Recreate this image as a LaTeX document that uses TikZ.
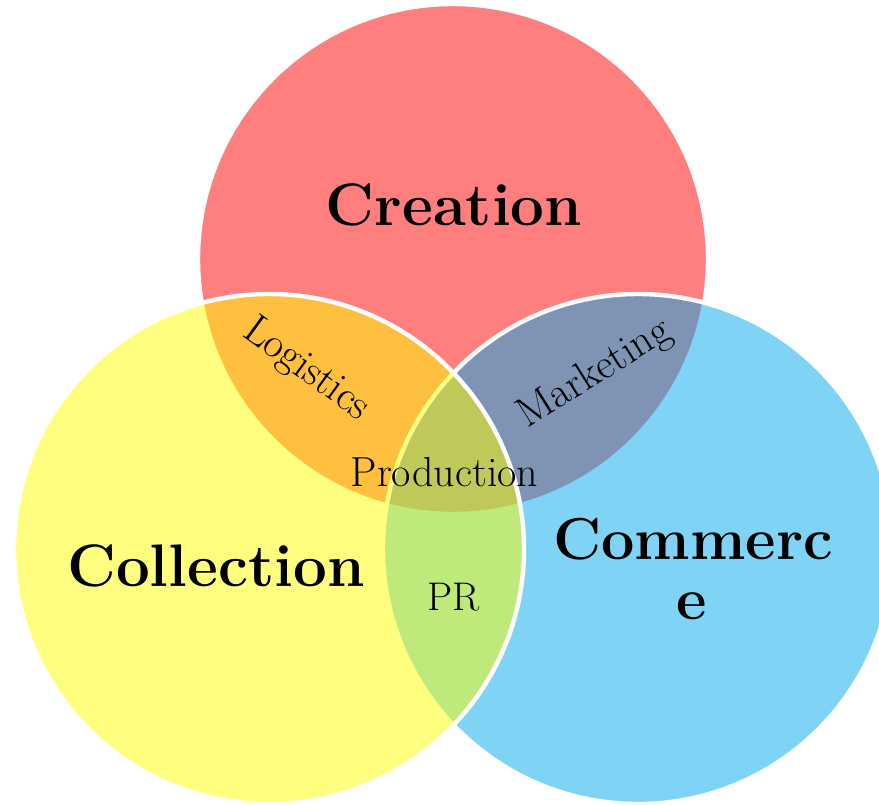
\documentclass[tikz,border=0pt]{standalone}
\usepackage{tikz}
\definecolor{cred}{RGB}{255,0,0}
\definecolor{cyel}{RGB}{255,255,0}
\definecolor{cblu}{RGB}{0,170,236}
\tikzset{
  venn/.style={fill opacity=0.5, draw=white, draw opacity=1, line width=2.2pt},
  biglabel/.style={font=\fontsize{30}{31}\selectfont\bfseries, inner sep=0pt, anchor=base},
  smalllabel/.style={font=\fontsize{21}{23}\selectfont, inner sep=0pt},
}
\begin{document}
\begin{tikzpicture}[x=0.5pt,y=-0.5pt]
\useasboundingbox (0,0) rectangle (879,804);
\clip (0,0) rectangle (879,804);
\coordinate (cr) at (453,259);
\coordinate (cy) at (269,549);
\coordinate (cb) at (638,549);
\path[venn, fill=cred] (cr) circle[radius=127.5pt];
\path[venn, fill=cblu] (cb) circle[radius=127.5pt];
\path[venn, fill=cyel] (cy) circle[radius=127.5pt];
\node[biglabel] (creation) at (454,225) {Creation};
\node[biglabel] (collection) at (216,586.7) {Collection};
\node[biglabel, font=\fontsize{29.6}{31}\selectfont\bfseries] (comm1) at (693,559) {Commerc};
\node[biglabel, font=\fontsize{29.6}{31}\selectfont\bfseries] (comm2) at (692,619) {e};
\node[smalllabel, rotate=-36] (logistics) at (306,370) {Logistics};
\node[smalllabel, rotate=32] (marketing) at (595,374) {Marketing};
\node[smalllabel, anchor=base] (production) at (444.5,486.7) {Production};
\node[smalllabel, anchor=base, font=\fontsize{20}{22}\selectfont] (pr) at (453.7,610) {PR};
\end{tikzpicture}
\end{document}
